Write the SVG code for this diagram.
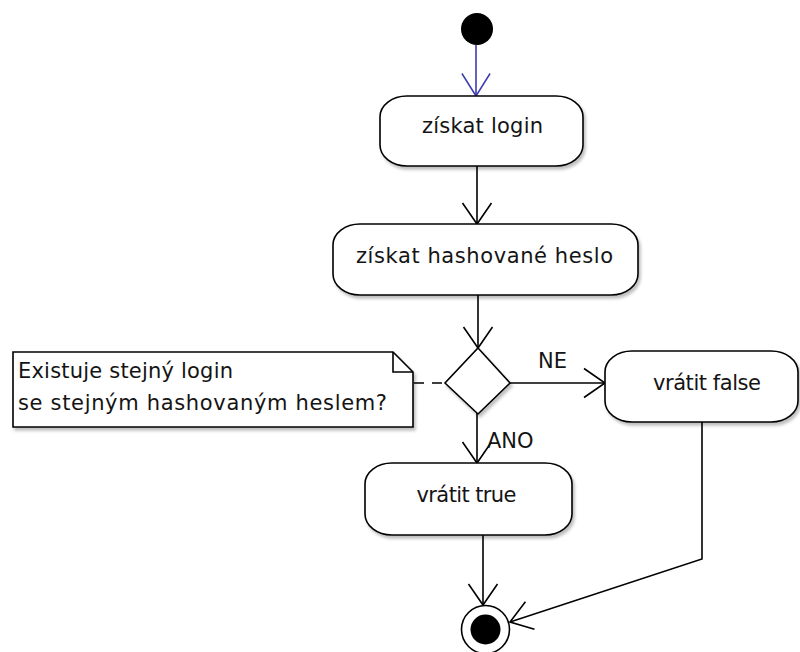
<svg xmlns="http://www.w3.org/2000/svg" width="800" height="652" viewBox="0 0 800 652">
  <style>
    .box { fill: #ffffff; stroke: #000000; stroke-width: 1.6; filter: url(#shadow); }
    .edge { fill: none; stroke: #000000; stroke-width: 1.6; }
    .flow { fill: none; stroke: #3b3bb0; stroke-width: 1.6; }
    .dash { fill: none; stroke: #000000; stroke-width: 1.6; stroke-dasharray: 10 8; }
    .label { font-family: "DejaVu Sans", "Liberation Sans", sans-serif; font-size: 21px; fill: #141414; }
  </style>
  <defs>
    <filter id="shadow" x="-10%" y="-10%" width="130%" height="140%">
      <feDropShadow dx="2" dy="3" stdDeviation="1.5" flood-color="#000000" flood-opacity="0.25"/>
    </filter>
    <marker id="arrow" markerUnits="userSpaceOnUse" markerWidth="30" markerHeight="34" viewBox="-25 -17 30 34" refX="0" refY="0" orient="auto" overflow="visible">
      <path d="M-21,-14.5 L0,0 L-21,14.5" fill="none" stroke="#000000" stroke-width="1.6"/>
    </marker>
    <marker id="arrow-blue" markerUnits="userSpaceOnUse" markerWidth="30" markerHeight="34" viewBox="-27 -17 32 34" refX="0" refY="0" orient="auto" overflow="visible">
      <path d="M-24,-15 L0,0 L-24,15" fill="none" stroke="#3b3bb0" stroke-width="1.6"/>
    </marker>
  </defs>

  <!-- connectors -->
  <g id="connectors">
    <line class="flow" x1="476" y1="45" x2="476" y2="96" marker-end="url(#arrow-blue)"/>
    <line class="edge" x1="477" y1="166" x2="477" y2="224" marker-end="url(#arrow)"/>
    <line class="edge" x1="478" y1="295" x2="478" y2="348" marker-end="url(#arrow)"/>
    <line class="edge" x1="509" y1="383" x2="605" y2="383" marker-end="url(#arrow)"/>
    <line class="edge" x1="477" y1="413" x2="477" y2="463" marker-end="url(#arrow)"/>
    <line class="edge" x1="483" y1="535" x2="483" y2="605" marker-end="url(#arrow)"/>
    <polyline class="edge" points="702,422 702,559 510,622" marker-end="url(#arrow)"/>
    <line class="dash" x1="414" y1="383" x2="446" y2="383"/>
    <text class="label" x="538" y="368">NE</text>
    <text class="label" x="487" y="448">ANO</text>
  </g>

  <!-- start -->
  <g id="start">
    <circle cx="477" cy="29" r="16" fill="#000000"/>
  </g>

  <g id="get-login">
    <rect class="box" x="380" y="96" width="203" height="70" rx="27" ry="21"/>
    <text class="label" x="482.5" y="133" text-anchor="middle" textLength="121">získat login</text>
  </g>

  <g id="get-hash">
    <rect class="box" x="333" y="224" width="305" height="71" rx="27" ry="21"/>
    <text class="label" x="484.5" y="263" text-anchor="middle" textLength="257">získat hashované heslo</text>
  </g>

  <g id="decision">
    <polygon class="box" points="478,348 510,383 478,414 445,383"/>
  </g>

  <g id="note">
    <path class="box" d="M13,352 L393,352 L413,372 L413,427 L13,427 Z"/>
    <path class="edge" d="M393,352 L393,372 L413,372"/>
    <text class="label" x="18" y="378" textLength="215">Existuje stejný login</text>
    <text class="label" x="18" y="410" textLength="369">se stejným hashovaným heslem?</text>
  </g>

  <g id="return-false">
    <rect class="box" x="605" y="351" width="193" height="71" rx="27" ry="21"/>
    <text class="label" x="707" y="390" text-anchor="middle" textLength="108">vrátit false</text>
  </g>

  <g id="return-true">
    <rect class="box" x="365" y="463" width="207" height="72" rx="27" ry="21"/>
    <text class="label" x="466.5" y="502" text-anchor="middle" textLength="100">vrátit true</text>
  </g>

  <!-- end -->
  <g id="end">
    <circle cx="485.5" cy="629.5" r="24" fill="#ffffff" stroke="#000000" stroke-width="1.6"/>
    <circle cx="485.5" cy="629.5" r="15" fill="#000000"/>
  </g>
</svg>
